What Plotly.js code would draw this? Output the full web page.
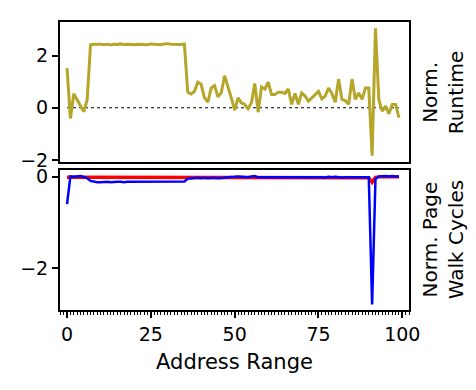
<!DOCTYPE html>
<html>
<head>
<meta charset="utf-8">
<script src="https://cdn.plot.ly/plotly-3.0.1.min.js"></script>
<style>html,body{margin:0;padding:0;background:#fff;}#chart{width:476px;height:390px;}</style>
</head>
<body>
<div id="chart"></div>
<script>
// Address range index
const addressRange = [
  0,1,2,3,4,5,6,7,8,9,10,11,12,13,14,15,16,17,18,19,
  20,21,22,23,24,25,26,27,28,29,30,31,32,33,34,35,36,37,38,39,
  40,41,42,43,44,45,46,47,48,49,50,51,52,53,54,55,56,57,58,59,
  60,61,62,63,64,65,66,67,68,69,70,71,72,73,74,75,76,77,78,79,
  80,81,82,83,84,85,86,87,88,89,90,91,92,93,94,95,96,97,98,99
];
// Normalized runtime (top panel)
const normRuntime = [
  1.52,-0.41,0.54,0.32,0.05,-0.15,0.30,
  2.42,2.44,2.45,2.44,2.42,2.44,2.41,2.44,2.43,2.45,2.42,2.44,2.43,2.42,
  2.44,2.44,2.43,2.42,2.45,2.44,2.43,2.42,2.45,2.46,2.44,2.43,2.42,2.43,2.45,
  0.60,0.53,0.63,0.98,0.90,0.38,0.22,0.76,0.85,0.42,
  0.57,1.23,0.85,0.38,-0.09,0.38,0.19,0.13,-0.04,0.19,
  0.93,-0.17,0.80,0.72,0.98,0.51,0.51,0.60,0.60,0.55,
  0.72,0.13,0.55,0.13,0.57,0.45,0.25,0.38,0.47,0.63,
  0.34,0.45,0.76,0.55,0.21,1.10,0.32,0.28,0.13,1.10,
  0.32,0.57,0.32,0.76,0.76,-1.84,3.05,0.32,-0.13,0.06,
  -0.23,0.13,0.13,-0.38
];
// Reference zero line for top panel
const zeroLineX = [0, 99];
const zeroLineY = [0, 0];
// Normalized page walk cycles (bottom panel): red series
const pageWalkRed = [
  -0.01,-0.01,-0.01,-0.01,-0.01,-0.01,-0.01,-0.01,-0.01,-0.01,
  -0.01,-0.01,-0.01,-0.01,-0.01,-0.01,-0.01,-0.01,-0.01,-0.01,
  -0.01,-0.01,-0.01,-0.01,-0.01,-0.01,-0.01,-0.01,-0.01,-0.01,
  -0.01,-0.01,-0.01,-0.01,-0.01,-0.01,-0.01,-0.01,-0.01,-0.01,
  -0.01,-0.01,-0.01,-0.01,-0.01,-0.01,-0.01,-0.01,-0.01,-0.01,
  -0.01,-0.01,-0.01,-0.01,-0.01,-0.01,-0.01,-0.01,-0.01,-0.01,
  -0.01,-0.01,-0.01,-0.01,-0.01,-0.01,-0.01,-0.01,-0.01,-0.01,
  -0.01,-0.01,-0.01,-0.01,-0.01,-0.01,-0.01,-0.01,-0.01,-0.01,
  -0.01,-0.01,-0.01,-0.01,-0.01,-0.01,-0.01,-0.01,-0.01,-0.01,
  -0.02,-0.12,-0.01,0.00,0.00,0.00,0.00,0.00,0.00,0.00
];
// Normalized page walk cycles (bottom panel): blue series
const pageWalkBlue = [
  -0.60,0.01,0.00,0.01,0.02,0.00,-0.03,-0.09,
  -0.11,-0.12,-0.12,-0.11,-0.11,-0.12,-0.11,-0.11,-0.11,-0.12,-0.11,-0.11,-0.11,-0.11,
  -0.11,-0.10,-0.11,-0.11,-0.10,-0.11,-0.11,-0.11,-0.10,-0.10,-0.11,-0.11,-0.11,-0.10,
  -0.04,-0.03,-0.03,-0.02,-0.03,-0.02,-0.03,-0.02,-0.02,-0.03,-0.03,-0.02,-0.01,-0.01,
  0.00,0.01,0.00,0.00,-0.01,0.01,0.02,-0.01,-0.01,-0.01,-0.01,-0.01,0.00,0.00,-0.01,
  0.00,-0.01,0.00,-0.01,-0.01,-0.01,0.00,-0.01,0.00,-0.01,0.00,-0.01,-0.02,0.00,-0.01,
  0.00,-0.01,-0.02,-0.01,-0.01,0.00,-0.01,-0.01,0.00,-0.01,-0.01,
  -2.80,-0.05,0.01,0.02,0.02,0.01,0.02,0.01,0.01
];
const xTicks = [0, 25, 50, 75, 100];
const topTicks = [-2, 0, 2];
const bottomTicks = [-2, 0];
const topLabel = 'Norm.<br>Runtime';
const bottomLabel = 'Norm. Page<br>Walk Cycles';
const xLabel = 'Address Range';

const FONT = 'DejaVu Sans';
const traces = [
  {x: zeroLineX, y: zeroLineY, xaxis: 'x2', yaxis: 'y2', mode: 'lines',
   line: {color: '#000', width: 1.2, dash: 'dot'}, hoverinfo: 'skip'},
  {x: addressRange, y: normRuntime, xaxis: 'x2', yaxis: 'y2', mode: 'lines',
   line: {color: '#b5a62a', width: 3}},
  {x: addressRange, y: pageWalkRed, xaxis: 'x', yaxis: 'y', mode: 'lines',
   line: {color: '#ff0000', width: 3.4}},
  {x: addressRange, y: pageWalkBlue, xaxis: 'x', yaxis: 'y', mode: 'lines',
   line: {color: '#0000ff', width: 2.5}}
];
const axBase = {
  showline: true, mirror: true, linecolor: '#000', linewidth: 2,
  showgrid: false, zeroline: false, ticks: 'outside', ticklen: 6, tickwidth: 2,
  tickcolor: '#000', tickfont: {family: FONT, size: 19, color: '#000'}
};
const layout = {
  width: 476, height: 390, showlegend: false,
  paper_bgcolor: '#fff', plot_bgcolor: '#fff',
  margin: {l: 60, r: 67, t: 22, b: 80},
  font: {family: FONT, color: '#000'},
  xaxis: Object.assign({}, axBase, {
    anchor: 'y', domain: [0, 1], range: [-2.1, 102], tickvals: xTicks,
    minor: {dtick: 1, ticks: 'outside', ticklen: 3, tickwidth: 1, tickcolor: '#000'},
    title: {text: xLabel, font: {family: FONT, size: 21, color: '#000'}, standoff: 11}
  }),
  xaxis2: Object.assign({}, axBase, {
    anchor: 'y2', domain: [0, 1], range: [-2.1, 102], matches: 'x',
    ticks: '', showticklabels: false
  }),
  yaxis: Object.assign({}, axBase, {
    anchor: 'x', domain: [0, 0.4861], range: [-2.92, 0.15], tickvals: bottomTicks
  }),
  yaxis2: Object.assign({}, axBase, {
    anchor: 'x2', domain: [0.5139, 1], range: [-2.08, 3.29], tickvals: topTicks
  }),
  annotations: [
    {text: topLabel, xref: 'paper', yref: 'paper', x: 1.098, y: 0.757,
     xanchor: 'center', yanchor: 'middle', textangle: -90, showarrow: false,
     font: {family: FONT, size: 20, color: '#000'}},
    {text: bottomLabel, xref: 'paper', yref: 'paper', x: 1.098, y: 0.243,
     xanchor: 'center', yanchor: 'middle', textangle: -90, showarrow: false,
     font: {family: FONT, size: 20, color: '#000'}}
  ]
};
Plotly.newPlot('chart', traces, layout, {staticPlot: true, displayModeBar: false});
</script>
</body>
</html>
